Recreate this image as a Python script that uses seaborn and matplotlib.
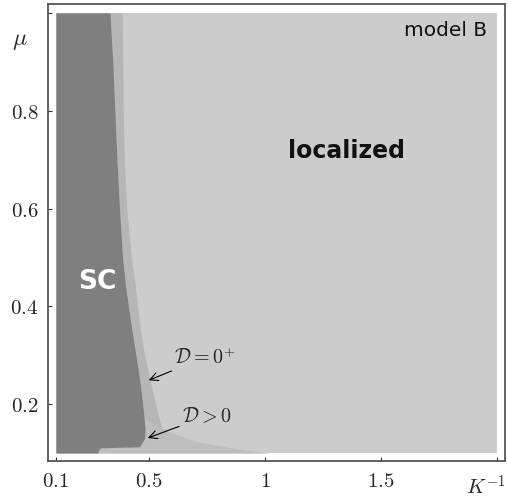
import numpy as np
import matplotlib
matplotlib.use("Agg")
import matplotlib.pyplot as plt
import seaborn as sns

# ---- data ----
# SC (dark) region boundary: K^-1 edge as a function of mu
sc_mu = [0.100, 0.111, 0.113, 0.13, 0.15, 0.20, 0.25, 0.30, 0.35, 0.40, 0.45, 0.50, 0.60, 0.70, 0.80, 0.90, 1.00]
sc_k = [0.28, 0.29, 0.46, 0.482, 0.484, 0.474, 0.461, 0.445, 0.428, 0.412, 0.398, 0.387, 0.374, 0.363, 0.354, 0.345, 0.333]
# D = 0+ band outer edge
band_mu = [0.13, 0.15, 0.20, 0.25, 0.30, 0.35, 0.40, 0.45, 0.50, 0.60, 0.70, 0.80, 0.90, 1.00]
band_k = [0.57, 0.555, 0.53, 0.505, 0.482, 0.465, 0.452, 0.44, 0.425, 0.405, 0.395, 0.39, 0.388, 0.386]
# D > 0 region upper edge as a function of K^-1
dpos_k = [0.28, 0.48, 0.50, 0.59, 0.72, 0.89, 1.02]
dpos_mu = [0.112, 0.170, 0.167, 0.143, 0.122, 0.108, 0.100]

k_range = [0.1, 2.0]
mu_range = [0.1, 1.0]
x_ticks = [0.1, 0.5, 1.0, 1.5, 2.0]
x_labels = ["$0.1$", "$0.5$", "$1$", "$1.5$", ""]
y_ticks = [0.2, 0.4, 0.6, 0.8, 1.0]
y_labels = ["$0.2$", "$0.4$", "$0.6$", "$0.8$", ""]

c_sc = "#7f7f7f"
c_loc = "#cccccc"
c_band = "#b6b6b6"
c_dpos = "#bebebe"

sns.set_theme(style="ticks")
plt.rcParams["font.family"] = ["DejaVu Sans"]
plt.rcParams["mathtext.fontset"] = "cm"

fig = plt.figure(figsize=(5.08, 5.0), dpi=100)
ax = fig.add_axes([48 / 508, 39 / 500, 457 / 508, 457 / 500])
ax.set_facecolor("white")

# localized background
ax.fill_between(k_range, [mu_range[0]] * 2, [mu_range[1]] * 2, color=c_loc, lw=0)
# D=0+ band
band_inner = np.interp(band_mu, sc_mu, sc_k)
ax.fill_betweenx(band_mu, band_inner, band_k, color=c_band, lw=0)
# D>0 region
ax.fill_between(dpos_k, [mu_range[0]] * len(dpos_k), dpos_mu, color=c_dpos, lw=0)
# SC region
ax.fill_betweenx(sc_mu, [k_range[0]] * len(sc_mu), sc_k, color=c_sc, lw=0)

ax.set_xlim(0.066, 2.034)
ax.set_ylim(0.084, 1.018)
ax.set_xticks(x_ticks)
ax.set_xticklabels(x_labels, fontsize=15)
ax.set_yticks(y_ticks)
ax.set_yticklabels(y_labels, fontsize=15)
ax.tick_params(direction="in", length=3, width=0.8, color="#333333", pad=7)
for s in ax.spines.values():
    s.set_color("#555555")
    s.set_linewidth(1.3)

ax.text(1.955, 0.963, "model B", ha="right", va="center", fontsize=14.5, color="#111111")
ax.text(1.353, 0.718, "localized", ha="center", va="center", fontsize=17, fontweight="bold", color="#111111")
ax.text(0.28, 0.449, "SC", ha="center", va="center", fontsize=19, fontweight="bold", color="white")

arrow = dict(arrowstyle="->", color="black", lw=0.8, shrinkA=0, shrinkB=0)
ax.annotate(r"$\mathcal{D}=0^{+}$", xy=(0.5, 0.249), xytext=(0.61, 0.296),
            fontsize=14.5, ha="left", va="center", arrowprops=arrow)
ax.annotate(r"$\mathcal{D}>0$", xy=(0.496, 0.131), xytext=(0.645, 0.176),
            fontsize=14.5, ha="left", va="center", arrowprops=arrow)

fig.text(20 / 508, 1 - 40 / 500, r"$\mu$", fontsize=17, ha="center", va="center")
fig.text(466 / 508, 1 - 487 / 500, r"$K^{-1}$", fontsize=15, ha="left", va="center")

fig.savefig("out.png", dpi=100)
